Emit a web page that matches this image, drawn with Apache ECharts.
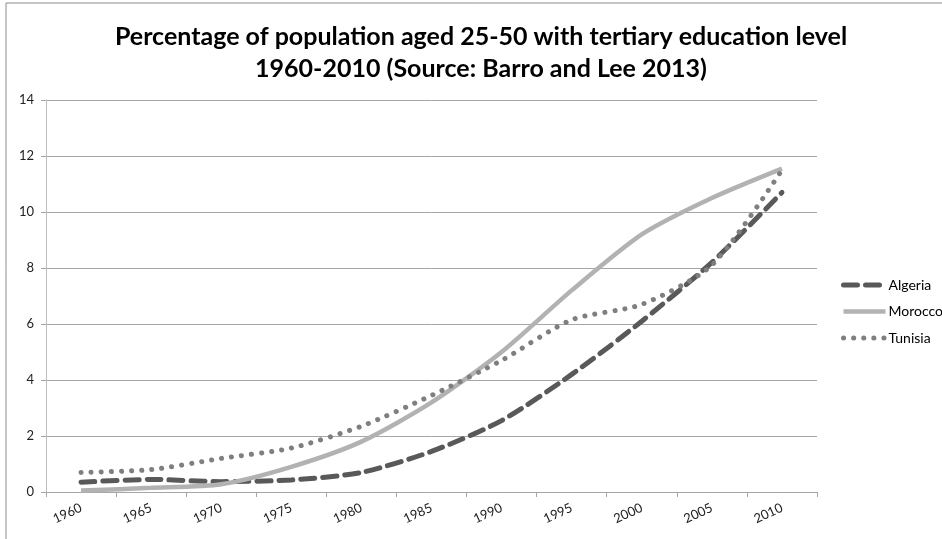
<!DOCTYPE html>
<html><head><meta charset="utf-8">
<script src="https://cdn.jsdelivr.net/npm/echarts@6/dist/echarts.min.js"></script>
<style>html,body{margin:0;padding:0;background:#fff}#c{width:942px;height:539px}</style>
</head><body><div id="c"></div>
<script>
const titleText = 'Percentage of population aged 25-50 with tertiary education level\n1960-2010 (Source: Barro and Lee 2013)';
const years = ['1960','1965','1970','1975','1980','1985','1990','1995','2000','2005','2010'];
const algeria = [0.35,0.45,0.37,0.43,0.7,1.45,2.55,4.2,6.1,8.2,10.7];
const morocco = [0.05,0.15,0.28,0.9,1.8,3.2,5.0,7.2,9.2,10.5,11.55];
const tunisia = [0.7,0.8,1.2,1.57,2.35,3.45,4.7,6.15,6.7,8.1,11.5];
const yTicks = {min:0, max:14, interval:2};

const font = 'Lato, "Open Sans", sans-serif';
const chart = echarts.init(document.getElementById('c'));
const algStyle = {color:'#595959',width:5,type:[14,8],cap:'round'};
const morStyle = {color:'#b2b2b2',width:4.5};
const tunStyle = {color:'#7f7f7f',width:5,type:[0.1,10],cap:'round'};
chart.setOption({
  backgroundColor:'#fff',
  animation:false,
  textStyle:{fontFamily:font},
  title:{text:titleText,left:476,textAlign:'center',top:16,
    textStyle:{fontSize:25,fontWeight:'bold',color:'#000',lineHeight:32,fontFamily:font}},
  graphic:[{type:'polyline',shape:{points:[[6,545],[6,3],[945,3]]},style:{stroke:'#8c8c8c',lineWidth:1,fill:null}}],
  legend:{orient:'vertical',left:836,top:273,itemGap:12.5,itemWidth:42,itemHeight:14,
    itemStyle:{opacity:0},
    textStyle:{fontSize:14,color:'#000',fontFamily:font,padding:[0,0,0,-2]},
    data:[{name:'Algeria',lineStyle:algStyle},{name:'Morocco',lineStyle:morStyle},{name:'Tunisia',lineStyle:tunStyle}]},
  grid:{left:46,right:125,top:100,bottom:47},
  xAxis:{type:'category',data:years,boundaryGap:true,
    axisLine:{lineStyle:{color:'#a6a6a6'}},
    axisTick:{show:true,length:5,lineStyle:{color:'#a6a6a6'}},
    axisLabel:{rotate:25,fontSize:13,color:'#222',margin:15,fontFamily:font}},
  yAxis:{type:'value',min:yTicks.min,max:yTicks.max,interval:yTicks.interval,
    axisLine:{show:true,lineStyle:{color:'#bfbfbf'}},
    axisTick:{show:true,length:5,lineStyle:{color:'#a6a6a6'}},
    splitLine:{lineStyle:{color:'#a6a6a6'}},
    axisLabel:{fontSize:13,color:'#222',margin:12,fontFamily:font}},
  series:[
    {name:'Algeria',type:'line',data:algeria,smooth:0.25,symbol:'none',
      itemStyle:{color:'#595959'},lineStyle:algStyle},
    {name:'Morocco',type:'line',data:morocco,smooth:0.25,symbol:'none',
      itemStyle:{color:'#b2b2b2'},lineStyle:morStyle},
    {name:'Tunisia',type:'line',data:tunisia,smooth:0.25,symbol:'none',
      itemStyle:{color:'#7f7f7f'},lineStyle:tunStyle}
  ]
});
</script></body></html>
